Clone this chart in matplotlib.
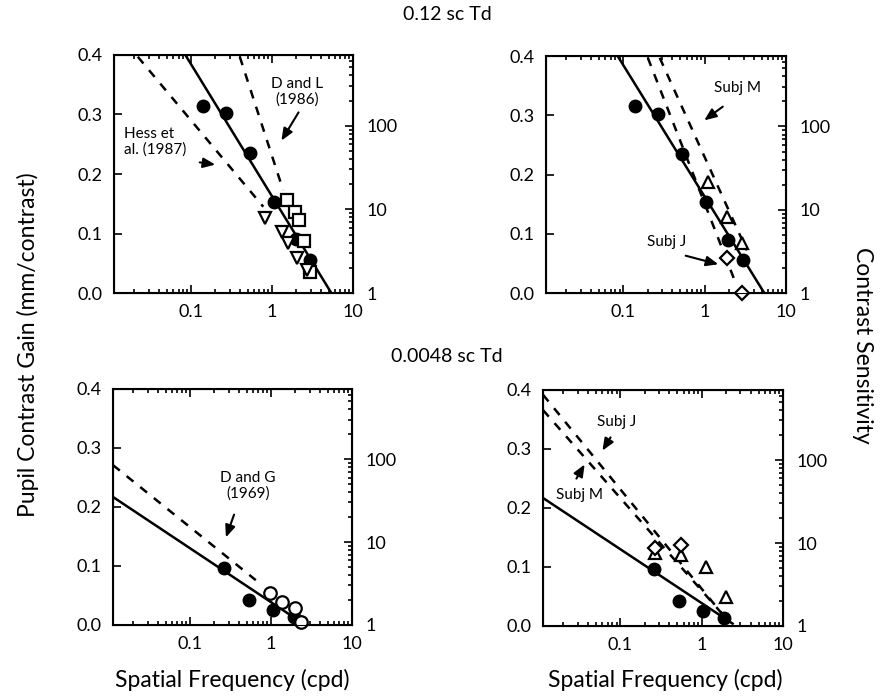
import numpy as np
import matplotlib
matplotlib.use("Agg")
import matplotlib.pyplot as plt

plt.rcParams['font.family'] = ['Lato', 'DejaVu Sans']

# ---- data (spatial frequency in cpd, pupil contrast gain in mm/contrast) ----
# 0.12 sc Td, pupil data (same in both top panels)
hi_sf = [0.14, 0.27, 0.53, 1.05, 1.95, 2.95]
hi_gain = [0.315, 0.303, 0.235, 0.153, 0.090, 0.055]
hi_fit_x = [0.08, 5.4]
hi_fit_y = [0.406, 0.0]

# Hess et al. (1987) psychophysics
hess_sf = [0.82, 1.33, 1.58, 2.03, 2.7]
hess_gain = [0.126, 0.103, 0.084, 0.059, 0.039]
hess_fit_x = [0.022, 0.78]
hess_fit_y = [0.397, 0.145]

# D and L (1986)
dl_sf = [1.53, 1.92, 2.15, 2.48, 2.95]
dl_gain = [0.156, 0.136, 0.123, 0.087, 0.035]
dl_fit_x = [0.40, 1.37]
dl_fit_y = [0.397, 0.173]

# subjects, 0.12 sc Td
m_hi_sf = [1.09, 1.9, 2.9]
m_hi_gain = [0.187, 0.128, 0.084]
m_hi_fit_x = [0.28, 3.3]
m_hi_fit_y = [0.397, 0.072]
j_hi_sf = [1.9, 2.9]
j_hi_gain = [0.059, 0.0]
j_hi_fit_x = [0.20, 2.4]
j_hi_fit_y = [0.397, 0.017]

# 0.0048 sc Td, pupil data
lo_sf = [0.26, 0.53, 1.05, 1.9]
lo_gain = [0.097, 0.042, 0.025, 0.014]
lo_fit_x = [0.0112, 2.4]
lo_fit_y = [0.217, 0.004]

# D and G (1969)
dg_sf = [0.98, 1.37, 1.98, 2.35]
dg_gain = [0.054, 0.039, 0.029, 0.005]
dg_fit_x = [0.0112, 0.65]
dg_fit_y = [0.271, 0.076]

# subjects, 0.0048 sc Td
m_lo_sf = [0.27, 0.55, 1.12, 2.0]
m_lo_gain = [0.124, 0.120, 0.100, 0.049]
m_lo_fit_x = [0.0112, 1.8]
m_lo_fit_y = [0.366, 0.02]
j_lo_sf = [0.27, 0.55]
j_lo_gain = [0.132, 0.137]
j_lo_fit_x = [0.0112, 1.8]
j_lo_fit_y = [0.392, 0.02]

fig = plt.figure(figsize=(8.91, 6.97), dpi=100)
pos = {
    'tl': [0.128, 0.5796, 0.2682, 0.3415],
    'tr': [0.6128, 0.5796, 0.2694, 0.3400],
    'bl': [0.1268, 0.1033, 0.2682, 0.3386],
    'br': [0.6094, 0.1019, 0.2694, 0.3386],
}

def make_ax(p):
    ax = fig.add_axes(p)
    ax.set_xscale('log')
    ax.set_xlim(0.0112, 10)
    ax.set_ylim(0, 0.4)
    ax.set_yticks([0, 0.1, 0.2, 0.3, 0.4])
    ax.set_yticklabels(['0.0', '0.1', '0.2', '0.3', '0.4'])
    ax.set_xticks([0.1, 1, 10])
    ax.set_xticklabels(['0.1', '1', '10'])
    ax.tick_params(which='both', direction='in', top=True, right=False, labelsize=13, width=1.2)
    ax.tick_params(which='major', length=6, pad=8)
    ax.tick_params(which='minor', length=3)
    for s in ax.spines.values():
        s.set_linewidth(1.5)
    ax2 = ax.twinx()
    ax2.set_yscale('log')
    ax2.set_ylim(1, 700)
    ax2.set_yticks([1, 10, 100])
    ax2.set_yticklabels(['1', '10', '100'])
    ax2.tick_params(which='both', direction='in', labelsize=13, width=1.2)
    ax2.tick_params(which='major', length=6, pad=10)
    ax2.tick_params(which='minor', length=3)
    return ax

lkw = dict(color='black', lw=1.8)
dkw = dict(color='black', lw=1.8, ls=(0, (3.5, 3.5)))
fill = dict(ls='none', marker='o', ms=9, color='black', clip_on=False, zorder=5)

def opn(m, ms=9):
    return dict(ls='none', marker=m, ms=ms, mfc='white', mec='black', mew=1.6, clip_on=False, zorder=6)

# top left
ax = make_ax(pos['tl'])
ax.plot(hi_fit_x, hi_fit_y, **lkw)
ax.plot(hess_fit_x, hess_fit_y, **dkw)
ax.plot(dl_fit_x, dl_fit_y, **dkw)
ax.plot(dl_sf, dl_gain, **opn('s'))
ax.plot(hess_sf, hess_gain, **opn('v'))
ax.plot(hi_sf, hi_gain, **fill)

# top right
ax = make_ax(pos['tr'])
ax.plot(hi_fit_x, hi_fit_y, **lkw)
ax.plot(m_hi_fit_x, m_hi_fit_y, **dkw)
ax.plot(j_hi_fit_x, j_hi_fit_y, **dkw)
ax.plot(m_hi_sf, m_hi_gain, **opn('^'))
ax.plot(j_hi_sf, j_hi_gain, **opn('D', 7))
ax.plot(hi_sf, hi_gain, **fill)

# bottom left
ax = make_ax(pos['bl'])
ax.plot(lo_fit_x, lo_fit_y, **lkw)
ax.plot(dg_fit_x, dg_fit_y, **dkw)
ax.plot(dg_sf, dg_gain, **opn('o'))
ax.plot(lo_sf, lo_gain, **fill)

# bottom right
ax = make_ax(pos['br'])
ax.plot(lo_fit_x, lo_fit_y, **lkw)
ax.plot(m_lo_fit_x, m_lo_fit_y, **dkw)
ax.plot(j_lo_fit_x, j_lo_fit_y, **dkw)
ax.plot(m_lo_sf, m_lo_gain, **opn('^'))
ax.plot(j_lo_sf, j_lo_gain, **opn('D', 7))
ax.plot(lo_sf, lo_gain, **fill)

W, H = 891.0, 697.0
def fp(x, y):
    return (x / W, 1 - y / H)

akw = dict(arrowstyle='-|>,head_length=0.6,head_width=0.25', color='black', lw=1.5)

def note(text, xy_text, xy_tail, xy_head, ha='center'):
    fig.text(*fp(*xy_text), text, ha=ha, va='center', fontsize=11, linespacing=1.1)
    fig.add_artist(matplotlib.patches.FancyArrowPatch(fp(*xy_tail), fp(*xy_head),
                   transform=fig.transFigure, mutation_scale=12, **akw))

note('D and L\n(1986)', (297, 92), (300, 110), (280, 143))
note('Hess et\nal. (1987)', (124, 142), (197, 162), (218, 165), ha='left')
note('Subj M', (738, 88), (725, 105), (702, 122))
note('Subj J', (667, 242), (683, 255), (721, 265))
note('D and G\n(1969)', (248, 486), (235, 512), (225, 540))
note('Subj J', (617, 422), (612, 435), (601, 453))
note('Subj M', (580, 495), (575, 481), (586, 462))

fig.text(*fp(447, 15), '0.12 sc Td', ha='center', va='center', fontsize=14)
fig.text(*fp(447, 357), '0.0048 sc Td', ha='center', va='center', fontsize=14)
fig.text(*fp(28, 345), 'Pupil Contrast Gain (mm/contrast)', ha='center', va='center', rotation=90, fontsize=16.5)
fig.text(*fp(862, 345), 'Contrast Sensitivity', ha='center', va='center', rotation=270, fontsize=16.5)
fig.text(*fp(232, 680), 'Spatial Frequency (cpd)', ha='center', va='center', fontsize=16.5)
fig.text(*fp(665, 680), 'Spatial Frequency (cpd)', ha='center', va='center', fontsize=16.5)

fig.savefig('out.png', dpi=100)
